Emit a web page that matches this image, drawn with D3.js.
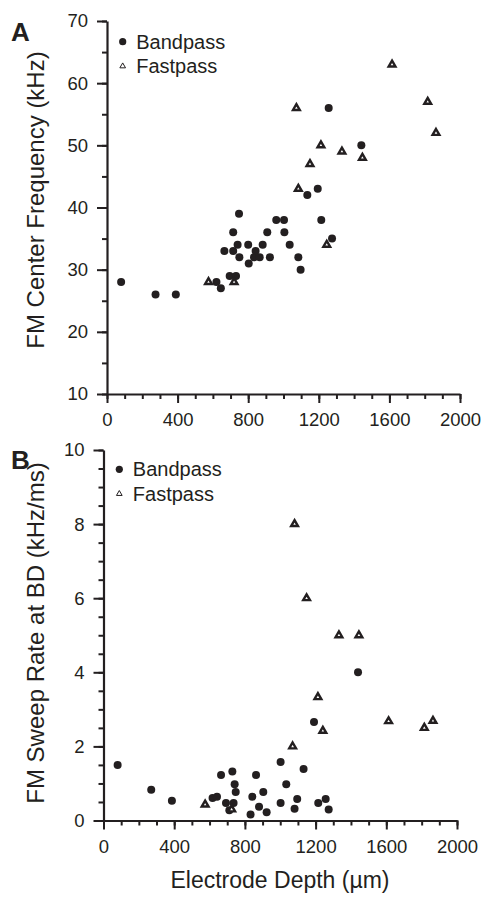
<!DOCTYPE html>
<html>
<head>
<meta charset="utf-8">
<style>
  body { margin: 0; background: #fff; }
  svg { display: block; font-family: "Liberation Sans", Arial, sans-serif; }
</style>
</head>
<body>
<div id="chart"></div>
<script src="https://cdn.jsdelivr.net/npm/d3@7"></script>
<script>
// Panel A: electrode depth (um) vs FM center frequency (kHz)
let bandA = [
  [80, 28], [275, 26], [390, 26], [620, 28], [645, 27], [665, 33], [695, 29],
  [715, 36], [715, 33], [731, 29], [740, 34], [748, 39], [750, 32], [800, 34],
  [803, 31], [833, 32], [842, 33], [865, 32], [882, 34], [908, 36], [923, 32],
  [959, 38], [1003, 38], [1005, 36], [1035, 34], [1084, 32], [1097, 30],
  [1135, 42], [1194, 43], [1214, 38], [1256, 56], [1275, 35], [1441, 50]
];
let fastA = [
  [575, 28], [720, 28], [1073, 56], [1084, 43], [1150, 47], [1212, 50],
  [1245, 34], [1331, 49], [1447, 48], [1615, 63], [1817, 57], [1864, 52]
];

// Panel B: electrode depth (um) vs FM sweep rate at BD (kHz/ms)
let bandB = [
  [80, 1.5], [270, 0.83], [387, 0.53], [617, 0.61], [642, 0.64], [665, 1.23],
  [693, 0.47], [712, 0.28], [729, 1.32], [736, 0.47], [742, 0.98], [748, 0.77],
  [832, 0.16], [842, 0.64], [863, 1.23], [880, 0.37], [904, 0.77], [923, 0.22],
  [1002, 1.58], [1002, 0.47], [1034, 0.98], [1081, 0.32], [1096, 0.58],
  [1132, 1.39], [1191, 2.66], [1215, 0.47], [1257, 0.58], [1274, 0.30], [1440, 4.0]
];
let fastB = [
  [575, 0.43], [725, 0.3], [1070, 2.0], [1081, 8.0], [1149, 6.0], [1213, 3.33],
  [1241, 2.42], [1332, 5.0], [1445, 5.0], [1613, 2.68], [1815, 2.5], [1864, 2.69]
];

let xTicks = [0, 400, 800, 1200, 1600, 2000];
let xMinor = d3.range(0, 2001, 100);
let yTicksA = [10, 20, 30, 40, 50, 60, 70];
let yMinorA = d3.range(10, 70.1, 5);
let yTicksB = [0, 2, 4, 6, 8, 10];
let yMinorB = d3.range(0, 10.01, 0.5);
let seriesNames = ["Bandpass", "Fastpass"];

let ink = "#231f20";
let svg = d3.select("#chart").append("svg")
  .attr("width", 482)
  .attr("height", 899);

function panel(opts) {
  let g = svg.append("g");
  let x = opts.x, y = opts.y;

  // minor ticks first, then major ticks with labels
  g.append("g")
    .attr("transform", `translate(0,${y.range()[0]})`)
    .call(d3.axisBottom(x).tickValues(xMinor).tickSize(5).tickFormat("").tickSizeOuter(0))
    .call(a => a.select(".domain").remove());
  g.append("g")
    .attr("transform", `translate(0,${y.range()[0]})`)
    .call(d3.axisBottom(x).tickValues(xTicks).tickSize(9).tickSizeOuter(0)
      .tickPadding(10).tickFormat(d3.format("d")));

  g.append("g")
    .attr("transform", `translate(${x.range()[0]},0)`)
    .call(d3.axisLeft(y).tickValues(opts.yMinor).tickSize(5).tickFormat("").tickSizeOuter(0))
    .call(a => a.select(".domain").remove());
  g.append("g")
    .attr("transform", `translate(${x.range()[0]},0)`)
    .call(d3.axisLeft(y).tickValues(opts.yTicks).tickSize(10).tickSizeOuter(0)
      .tickPadding(9).tickFormat(d3.format("d")));

  g.selectAll(".domain").attr("stroke", ink).attr("stroke-width", 2.2);
  g.selectAll(".tick line").attr("stroke", ink).attr("stroke-width", 2);
  g.selectAll(".tick text").attr("fill", ink).style("font-size", "18.5px")
    .style("font-family", "'Liberation Sans', Arial, sans-serif");

  // y axis title
  g.append("text")
    .attr("transform", `translate(${opts.titleX},${opts.titleY}) rotate(-90)`)
    .attr("text-anchor", "middle")
    .attr("fill", ink)
    .style("font-size", "24px")
    .text(opts.yTitle);

  // panel letter
  g.append("text")
    .attr("x", 11).attr("y", opts.letterY)
    .attr("fill", ink)
    .style("font-size", "26px").style("font-weight", "bold")
    .text(opts.letter);

  // points
  g.append("g").selectAll("circle")
    .data(opts.band)
    .join("circle")
    .attr("cx", d => x(d[0]))
    .attr("cy", d => y(d[1]))
    .attr("r", 4)
    .attr("fill", ink);

  g.append("g").selectAll("path")
    .data(opts.fast)
    .join("path")
    .attr("d", d3.symbol(d3.symbolTriangle, 20))
    .attr("transform", d => `translate(${x(d[0])},${y(d[1])})`)
    .attr("fill", "#fff")
    .attr("stroke", ink)
    .attr("stroke-width", 2.4)
    .attr("stroke-linejoin", "miter");

  // legend
  let lg = g.append("g").attr("transform", `translate(${opts.legX},${opts.legY})`);
  lg.append("circle").attr("cx", 0).attr("cy", 0).attr("r", 3.6).attr("fill", ink);
  lg.append("path")
    .attr("d", d3.symbol(d3.symbolTriangle, 14))
    .attr("transform", "translate(0,24.5)")
    .attr("fill", "#fff").attr("stroke", ink).attr("stroke-width", 1);
  lg.selectAll("text")
    .data(seriesNames)
    .join("text")
    .attr("x", 13.5)
    .attr("y", (d, i) => 7 + i * 24.5)
    .attr("fill", ink)
    .style("font-size", "20px")
    .text(d => d);
}

panel({
  x: d3.scaleLinear([0, 2000], [107, 460]),
  y: d3.scaleLinear([10, 70], [394, 21]),
  yTicks: yTicksA, yMinor: yMinorA,
  band: bandA, fast: fastA,
  yTitle: "FM Center Frequency (kHz)",
  titleX: 44, titleY: 200,
  letter: "A", letterY: 41,
  legX: 122.7, legY: 41.7
});

panel({
  x: d3.scaleLinear([0, 2000], [103.5, 457]),
  y: d3.scaleLinear([0, 10], [820.5, 450]),
  yTicks: yTicksB, yMinor: yMinorB,
  band: bandB, fast: fastB,
  yTitle: "FM Sweep Rate at BD (kHz/ms)",
  titleX: 44, titleY: 633,
  letter: "B", letterY: 469,
  legX: 119.3, legY: 469.3
});

// shared x axis title
svg.append("text")
  .attr("x", 280).attr("y", 888)
  .attr("text-anchor", "middle")
  .attr("fill", ink)
  .style("font-size", "23px")
  .text("Electrode Depth (µm)");
</script>
</body>
</html>
